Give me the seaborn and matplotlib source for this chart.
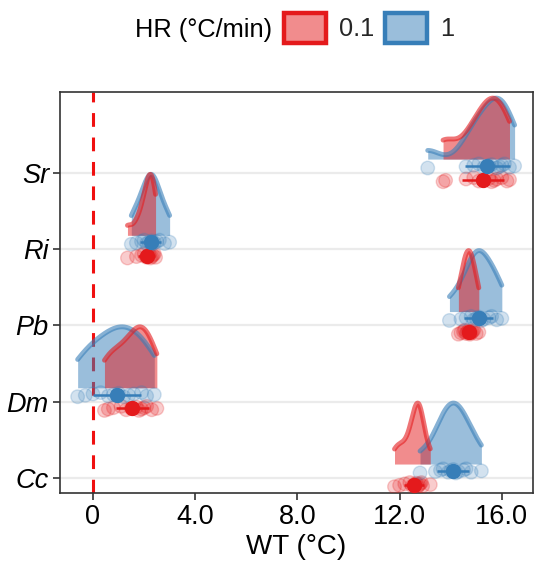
import numpy as np
import pandas as pd
import matplotlib
matplotlib.use("Agg")
import matplotlib.pyplot as plt
from matplotlib.patches import Patch
import seaborn as sns

# Categories and labels
species = ["Cc", "Dm", "Pb", "Ri", "Sr"]
rates = ["0.1", "1"]
x_ticks = [0, 4, 8, 12, 16]
x_tick_labels = ["0", "4.0", "8.0", "12.0", "16.0"]

# Warming tolerance (°C) per species and heating rate
wt_cc_01 = [11.8, 12.0, 12.2, 12.4, 12.5, 12.6, 12.65, 12.7, 12.75, 12.8, 12.85, 12.9, 13.2]
wt_cc_1 = [12.8, 13.4, 13.6, 13.7, 13.9, 14.0, 14.1, 14.2, 14.3, 14.5, 14.6, 14.8, 15.2]
wt_dm_01 = [0.45, 0.6, 0.8, 1.1, 1.3, 1.5, 1.7, 1.8, 1.9, 2.0, 2.1, 2.3, 2.5]
wt_dm_1 = [-0.6, -0.3, 0.0, 0.3, 0.6, 0.8, 1.0, 1.2, 1.4, 1.6, 1.9, 2.1, 2.4]
wt_pb_01 = [14.3, 14.4, 14.5, 14.55, 14.6, 14.65, 14.7, 14.75, 14.8, 14.85, 14.9, 15.0, 15.1]
wt_pb_1 = [13.95, 14.4, 14.6, 14.8, 14.9, 15.0, 15.1, 15.2, 15.3, 15.5, 15.6, 15.8, 16.0]
wt_ri_01 = [1.35, 1.7, 1.9, 2.0, 2.1, 2.15, 2.2, 2.25, 2.3, 2.35, 2.4, 2.45]
wt_ri_1 = [1.5, 1.7, 1.9, 2.0, 2.1, 2.2, 2.3, 2.3, 2.4, 2.5, 2.6, 2.8, 3.0]
wt_sr_01 = [13.7, 13.8, 14.6, 14.9, 15.1, 15.3, 15.5, 15.6, 15.7, 15.8, 16.0, 16.2, 16.3]
wt_sr_1 = [13.1, 14.6, 14.9, 15.1, 15.3, 15.5, 15.6, 15.8, 15.9, 16.0, 16.1, 16.3, 16.5]

groups = {
    ("Cc", "0.1"): wt_cc_01, ("Cc", "1"): wt_cc_1,
    ("Dm", "0.1"): wt_dm_01, ("Dm", "1"): wt_dm_1,
    ("Pb", "0.1"): wt_pb_01, ("Pb", "1"): wt_pb_1,
    ("Ri", "0.1"): wt_ri_01, ("Ri", "1"): wt_ri_1,
    ("Sr", "0.1"): wt_sr_01, ("Sr", "1"): wt_sr_1,
}

palette = {"0.1": "#E41A1C", "1": "#377EB8"}
point_offset = {"0.1": -0.09, "1": 0.09}
slab_base = 0.18
slab_height = 0.80

rows = []
for (sp, hr), vals in groups.items():
    for i, v in enumerate(vals):
        jit = (((i * 37) % 7) - 3) * 0.009
        rows.append({"species": sp, "HR": hr, "WT": v,
                     "ypos": species.index(sp) + point_offset[hr] + jit})
df = pd.DataFrame(rows)


def half_density(vals, adjust=1.2, n=256):
    v = np.asarray(vals, dtype=float)
    sd = v.std(ddof=1)
    iqr = np.subtract(*np.percentile(v, [75, 25]))
    bw = 0.9 * min(sd, iqr / 1.34) * len(v) ** -0.2 * adjust
    grid = np.linspace(v.min(), v.max(), n)
    dens = np.exp(-0.5 * ((grid[:, None] - v[None, :]) / bw) ** 2).sum(axis=1)
    return grid, dens / dens.max()


sns.set_theme(style="white")
plt.rcParams["font.family"] = ["Liberation Sans", "DejaVu Sans"]

fig = plt.figure(figsize=(5.35, 5.74), dpi=100)
ax = fig.add_axes([60 / 535, 1 - 493 / 574, 473 / 535, 401 / 574])

ax.set_yticks(range(len(species)))
ax.yaxis.grid(True, color="#EBEBEB", lw=1.6)
ax.set_axisbelow(True)

ax.axvline(0, color="#F01010", lw=2.2, ls=(0, (4.5, 3.5)), zorder=1)

# Half-density slabs
for hr in ["1", "0.1"]:
    for sp in species:
        vals = groups[(sp, hr)]
        grid, d = half_density(vals)
        base = species.index(sp) + slab_base
        ax.fill_between(grid, base, base + d * slab_height,
                        color=palette[hr], alpha=0.5, lw=0, zorder=2)
        ax.plot(grid, base + d * slab_height, color=palette[hr],
                alpha=0.6, lw=3.5, solid_capstyle="round", zorder=3)

# Raw observations
sns.scatterplot(data=df, x="WT", y="ypos", hue="HR", palette=palette,
                alpha=0.22, s=95, edgecolor="face", linewidth=1.0,
                legend=False, ax=ax, zorder=4)

# Mean +/- SD
for hr in rates:
    for sp in species:
        v = np.asarray(groups[(sp, hr)])
        ax.errorbar(v.mean(), species.index(sp) + point_offset[hr],
                    xerr=v.std(ddof=1), fmt="o", color=palette[hr],
                    ms=10, elinewidth=1.8, capsize=0, zorder=5)

ax.set_xlim(-1.29, 17.22)
ax.set_ylim(-0.2, 5.06)
ax.set_xticks(x_ticks)
ax.set_xticklabels(x_tick_labels)
ax.set_yticklabels(species, fontstyle="italic")
ax.set_xlabel("WT (°C)", fontsize=20, color="black", labelpad=3)
ax.set_ylabel("")
ax.tick_params(axis="both", labelsize=19.5, colors="#333333", length=5,
               width=1.2, labelcolor="black", bottom=True, left=True, pad=3)
for s in ax.spines.values():
    s.set_color("#333333")
    s.set_linewidth(1.2)

fig.text(135 / 535, 1 - 30 / 574, "HR (°C/min)", ha="left", va="center",
         fontsize=18.3, color="black")
handles = [Patch(facecolor=matplotlib.colors.to_rgba(palette[r], 0.5),
                 edgecolor=palette[r], lw=3.2) for r in rates]
fig.legend(handles, rates, ncol=2, loc="center left",
           bbox_to_anchor=(284 / 535, 1 - 28 / 574), frameon=False,
           fontsize=18.3, handlelength=1.65, handleheight=1.45,
           handletextpad=0.5, columnspacing=0.45, borderpad=0, borderaxespad=0)

fig.savefig("out.png", dpi=100)
